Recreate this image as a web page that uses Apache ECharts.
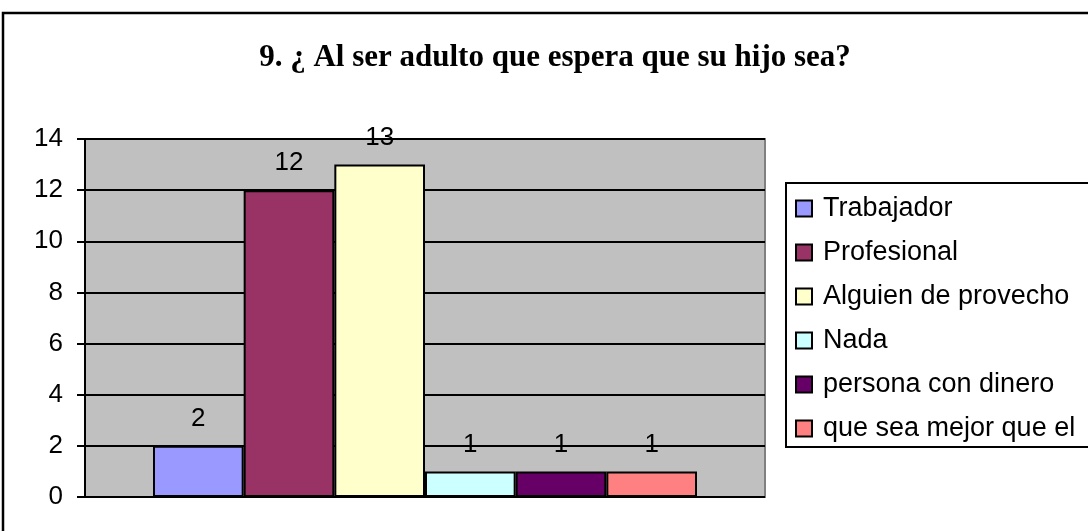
<!DOCTYPE html>
<html>
<head>
<meta charset="utf-8">
<script src="https://cdn.jsdelivr.net/npm/echarts@6/dist/echarts.min.js"></script>
<style>
  html, body { margin: 0; padding: 0; background: #fff; }
  #chart { width: 1088px; height: 531px; }
</style>
</head>
<body>
<div id="chart"></div>
<script>
// Survey question 9: answers and counts
const titleText = '9. ¿ Al ser adulto que espera que su hijo sea?';
const answers = ['Trabajador', 'Profesional', 'Alguien de provecho', 'Nada', 'persona con dinero', 'que sea mejor que el'];
const counts = [2, 12, 13, 1, 1, 1];
const answerColors = ['#9999FF', '#993366', '#FFFFCC', '#CCFFFF', '#660066', '#FF8080'];
const yTicks = [0, 2, 4, 6, 8, 10, 12, 14];

const sansFont = 'Liberation Sans, Arial, sans-serif';

const chart = echarts.init(document.getElementById('chart'), null, { renderer: 'canvas' });

const series = answers.map((name, i) => ({
  name: name,
  type: 'bar',
  data: [counts[i]],
  barGap: '0%',
  barCategoryGap: '20%',
  itemStyle: { color: answerColors[i], borderColor: '#000', borderWidth: 2 },
  label: {
    show: true,
    position: 'top',
    distance: 14,
    color: '#000',
    fontFamily: sansFont,
    fontSize: 26
  }
}));

chart.setOption({
  animation: false,
  backgroundColor: '#fff',
  title: {
    text: titleText,
    left: 550,
    top: 37,
    textAlign: 'center',
    textStyle: {
      fontFamily: 'Liberation Serif, Times New Roman, serif',
      fontWeight: 'bold',
      fontSize: 31,
      color: '#000'
    }
  },
  grid: {
    left: 85, right: 323, top: 139, bottom: 34,
    show: true,
    backgroundColor: '#C0C0C0',
    borderColor: '#808080',
    borderWidth: 2
  },
  legend: {
    orient: 'vertical',
    left: 795,
    top: 195,
    padding: 0,
    itemWidth: 16,
    itemHeight: 16,
    itemGap: 17,
    icon: 'rect',
    itemStyle: { borderColor: '#000', borderWidth: 2 },
    textStyle: {
      fontFamily: sansFont,
      fontSize: 27,
      lineHeight: 26,
      color: '#000',
      padding: [0, 0, 0, 6]
    },
    data: answers
  },
  xAxis: {
    type: 'category',
    data: [''],
    axisLine: { show: false },
    axisTick: { show: false },
    axisLabel: { show: false }
  },
  yAxis: {
    type: 'value',
    min: yTicks[0],
    max: yTicks[yTicks.length - 1],
    interval: 2,
    axisLine: { show: true, lineStyle: { color: '#000', width: 2 } },
    axisTick: { show: true, length: 8, lineStyle: { color: '#000', width: 2 } },
    axisLabel: {
      margin: 22,
      color: '#000',
      fontFamily: sansFont,
      fontSize: 26
    },
    splitLine: { show: true, lineStyle: { color: '#000', width: 2 } }
  },
  graphic: [
    {
      type: 'rect',
      z: -1,
      shape: { x: 3, y: 13, width: 1200, height: 600 },
      style: { fill: 'none', stroke: '#000', lineWidth: 2.5 }
    },
    {
      type: 'rect',
      z: 0,
      shape: { x: 786, y: 183, width: 400, height: 264 },
      style: { fill: '#fff', stroke: '#000', lineWidth: 2 }
    }
  ],
  series: series
});
</script>
</body>
</html>
